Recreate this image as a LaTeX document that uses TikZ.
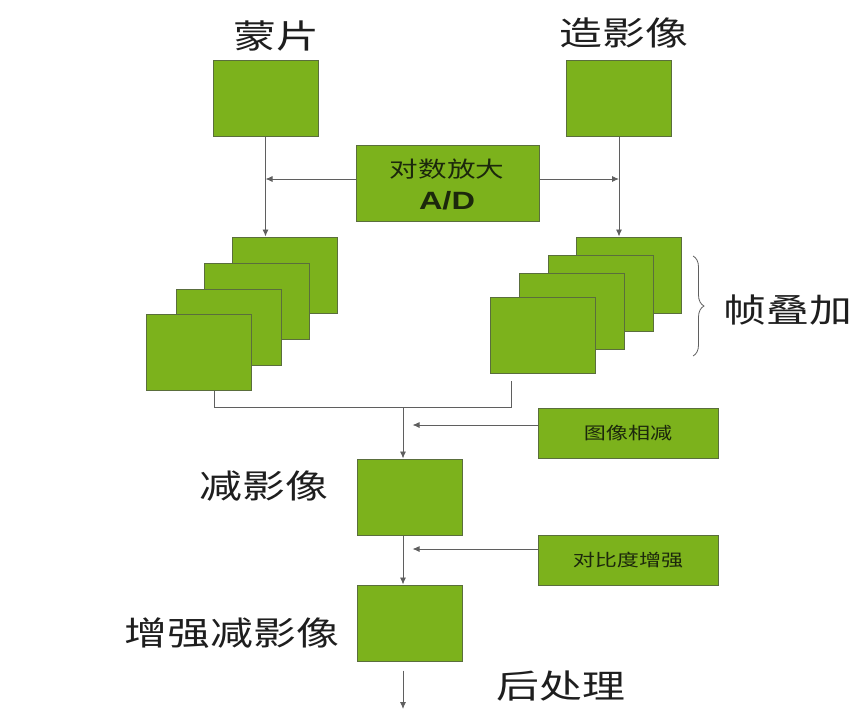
\documentclass[tikz,border=0pt]{standalone}
\usepackage{graphicx}
\usepackage{fontspec}
\newfontfamily\cjk{Noto Sans CJK SC}
\setsansfont{Liberation Sans}
\usetikzlibrary{decorations.pathreplacing,arrows.meta}
\definecolor{boxgreen}{RGB}{124,178,28}
\definecolor{boxedge}{RGB}{90,110,60}
\definecolor{linegrey}{RGB}{95,95,95}
\definecolor{txt}{RGB}{30,30,30}
\definecolor{boxtxt}{RGB}{28,40,12}
\newcommand{\wide}[1]{\scalebox{1.3}[1]{#1}}
\begin{document}
\begin{tikzpicture}[x=1pt,y=-1pt,
  gbox/.style={draw=boxedge, fill=boxgreen, line width=1pt, inner sep=0pt,
    minimum width=105pt, minimum height=76pt},
  wbox/.style={draw=boxedge, fill=boxgreen, line width=1pt, inner sep=0pt,
    minimum width=180pt, minimum height=50pt, font=\cjk\fontsize{17}{20}\selectfont, text=boxtxt},
  biglabel/.style={font=\cjk\fontsize{33}{38}\selectfont, text=txt, inner sep=0pt},
  conn/.style={draw=linegrey, line width=0.9pt},
  arr/.style={conn, -{Latex[length=7pt,width=6pt]}}]
\useasboundingbox (0,0) rectangle (858,713);

% top labels and boxes
\node[biglabel] (tmask) at (276,36) {\wide{蒙片}};
\node[biglabel] (tcontr) at (624,33) {\wide{造影像}};
\node[gbox] (mask) at (265.5,98.5) {};
\node[gbox] (contr) at (619,98.5) {};

\node[draw=boxedge, fill=boxgreen, line width=1pt, inner sep=0pt,
  minimum width=183pt, minimum height=76pt] (ad) at (447.5,183) {};
\node[font=\cjk\fontsize{22}{26}\selectfont, text=boxtxt, inner sep=0pt] (adt1) at (447,169.5) {\wide{对数放大}};
\node[font=\sffamily\bfseries\fontsize{25}{28}\selectfont, text=boxtxt, inner sep=0pt] (adt2) at (447,201) {\wide{A/D}};

% left stack
\node[gbox] (L1) at (284.5,275) {};
\node[gbox] (L2) at (256.5,301) {};
\node[gbox] (L3) at (228.5,327) {};
\node[gbox] (L4) at (198.5,352.5) {};
% right stack
\node[gbox] (R1) at (629,275) {};
\node[gbox] (R2) at (600.5,293.5) {};
\node[gbox] (R3) at (571.5,311) {};
\node[gbox] (R4) at (543,335) {};

% connections from top
\coordinate (adw) at ([yshift=4pt]ad.west);
\coordinate (ade) at ([yshift=4pt]ad.east);
\draw[arr] (mask.south) -- (mask.south |- L1.north);
\draw[arr] (contr.south) -- (contr.south |- R1.north);
\draw[arr] (adw) -- (mask.south |- adw);
\draw[arr] (ade) -- (contr.south |- ade);

% brace
\draw[linegrey, line width=0.8pt, decorate, decoration={brace, amplitude=11pt}]
  (693,256) -- (693,356);
\node[biglabel] (frame) at (788,310) {\wide{帧叠加}};

% subtraction
\node[wbox] (imgsub) at (628,433) {\wide{图像相减}};
\node[gbox] (sub) at (409.5,497) {};
\node[biglabel] (tsub) at (264,486) {\wide{减影像}};
\coordinate (j) at (403,407);
\draw[conn] ([xshift=15.5pt]L4.south) |- (j) -| ([xshift=-32pt,yshift=-7pt]R4.south);
\draw[arr] (j) -- (j |- sub.north);
\draw[arr] ([yshift=8pt]imgsub.west) -- ++(-125,0);

% enhancement
\node[wbox] (enh) at (628,560.5) {\wide{对比度增强}};
\node[gbox] (esub) at (409.5,623) {};
\node[biglabel] (tesub) at (232,633) {\wide{增强减影像}};
\draw[arr] (j |- sub.south) -- (j |- esub.north);
\draw[arr] ([yshift=11.5pt]enh.west) -- ++(-125,0);

% post processing
\node[biglabel] (post) at (561,686) {\wide{后处理}};
\coordinate (pend) at (403,709);
\draw[arr] ([yshift=-9pt]j |- esub.south) -- (pend);
\end{tikzpicture}
\end{document}
